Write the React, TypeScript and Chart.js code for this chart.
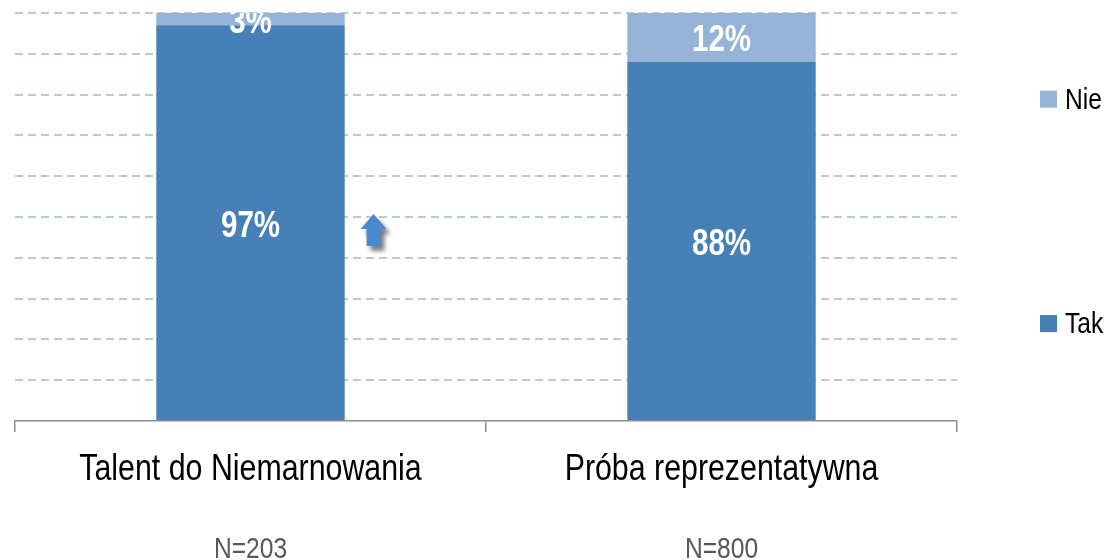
import React, { useEffect, useRef } from "react";
import { Chart, registerables } from "chart.js";

Chart.register(...registerables);

const categories = ["Talent do Niemarnowania", "Próba reprezentatywna"];
const sampleSizes = ["N=203", "N=800"];
const takValues = [97, 88];
const nieValues = [3, 12];
const seriesNames = ["Tak", "Nie"];

const FONT = "'Liberation Sans', Arial, sans-serif";
const NARROW = 0.82;
const TAK_COLOR = "#4680b6";
const NIE_COLOR = "#95b3d7";

function drawNarrow(ctx: any, text: string, x: number, y: number, font: string, color: string, align: string) {
  ctx.save();
  ctx.font = font;
  ctx.fillStyle = color;
  ctx.textBaseline = "alphabetic";
  ctx.textAlign = align;
  ctx.translate(x, y);
  ctx.scale(NARROW, 1);
  ctx.fillText(text, 0, 0);
  ctx.restore();
}

const labelsPlugin = {
  id: "customLabels",
  afterDatasetsDraw(chart: any) {
    const { ctx, chartArea } = chart;
    ctx.save();
    ctx.beginPath();
    ctx.rect(chartArea.left, chartArea.top, chartArea.right - chartArea.left, chartArea.bottom - chartArea.top);
    ctx.clip();
    const size = 36;
    chart.data.datasets.forEach((ds: any, di: number) => {
      const meta = chart.getDatasetMeta(di);
      meta.data.forEach((el: any, i: number) => {
        const v = ds.data[i];
        const cy = (el.y + el.base) / 2 + 1;
        drawNarrow(ctx, `${v}%`, el.x, cy + (0.716 * size) / 2, `bold ${size}px ${FONT}`, "#ffffff", "center");
      });
    });
    ctx.restore();
  },
  afterDraw(chart: any) {
    const { ctx, chartArea, scales } = chart;
    const xs = scales.x;
    const ys = scales.y;
    // category labels and sample sizes
    categories.forEach((t, i) => {
      const px = xs.getPixelForValue(i);
      drawNarrow(ctx, t, px, chartArea.bottom + 59, `37px ${FONT}`, "#000000", "center");
      drawNarrow(ctx, sampleSizes[i], px, chartArea.bottom + 137, `30px ${FONT}`, "#595959", "center");
    });
    // legend
    const legendItems = [
      { label: chart.data.datasets[1].label, color: chart.data.datasets[1].backgroundColor, y: ys.getPixelForValue(79) },
      { label: chart.data.datasets[0].label, color: chart.data.datasets[0].backgroundColor, y: ys.getPixelForValue(24) },
    ];
    legendItems.forEach((it) => {
      ctx.fillStyle = it.color;
      ctx.fillRect(chartArea.right + 83, it.y - 8, 17, 17);
      drawNarrow(ctx, it.label, chartArea.right + 108, it.y + 10, `30px ${FONT}`, "#000000", "left");
    });
    // significance arrow
    ctx.save();
    const ax = xs.getPixelForValue(0) + 123;
    const ay = ys.getPixelForValue(50) - 3;
    ctx.shadowColor = "rgba(0,0,0,0.5)";
    ctx.shadowBlur = 4;
    ctx.shadowOffsetX = 4;
    ctx.shadowOffsetY = 5;
    ctx.fillStyle = "#4a89cf";
    ctx.beginPath();
    ctx.moveTo(ax, ay);
    ctx.lineTo(ax + 13, ay + 15);
    ctx.lineTo(ax + 7, ay + 15);
    ctx.lineTo(ax + 7, ay + 32);
    ctx.lineTo(ax - 7, ay + 32);
    ctx.lineTo(ax - 7, ay + 15);
    ctx.lineTo(ax - 13, ay + 15);
    ctx.closePath();
    ctx.fill();
    ctx.restore();
  },
};

export default function App() {
  const ref = useRef<HTMLCanvasElement | null>(null);
  useEffect(() => {
    document.body.style.margin = "0";
    const canvas = ref.current;
    if (!canvas) return;
    const chart = new Chart(canvas, {
      type: "bar",
      data: {
        labels: categories,
        datasets: [
          { label: seriesNames[0], data: takValues, backgroundColor: TAK_COLOR, categoryPercentage: 0.8, barPercentage: 0.5 },
          { label: seriesNames[1], data: nieValues, backgroundColor: NIE_COLOR, categoryPercentage: 0.8, barPercentage: 0.5 },
        ],
      },
      options: {
        responsive: false,
        animation: false,
        devicePixelRatio: 1,
        layout: { padding: { left: 15, right: 154, top: 13, bottom: 0 } },
        plugins: { legend: { display: false }, tooltip: { enabled: false } },
        scales: {
          x: {
            stacked: true,
            offset: true,
            grid: {
              display: true,
              drawOnChartArea: false,
              drawTicks: true,
              tickLength: 11,
              color: "#8c8c8c",
              lineWidth: 1.5,
              offset: true,
            },
            border: { display: true, color: "#8c8c8c", width: 1.5 },
            ticks: { display: false },
            afterFit: (scale: any) => {
              scale.height = 139;
            },
          },
          y: {
            stacked: true,
            min: 0,
            max: 100,
            ticks: { display: false, stepSize: 10 },
            grid: {
              drawTicks: false,
              color: (c: any) => (c.tick && c.tick.value === 0 ? "rgba(0,0,0,0)" : "#bccaca"),
              lineWidth: 2,
            },
            border: { display: false, dash: [8, 5] },
            afterFit: (scale: any) => {
              scale.width = 0;
            },
          },
        },
      },
      plugins: [labelsPlugin],
    });
    return () => chart.destroy();
  }, []);
  return <canvas ref={ref} width={1111} height={560} style={{ display: "block", width: 1111, height: 560 }} />;
}
